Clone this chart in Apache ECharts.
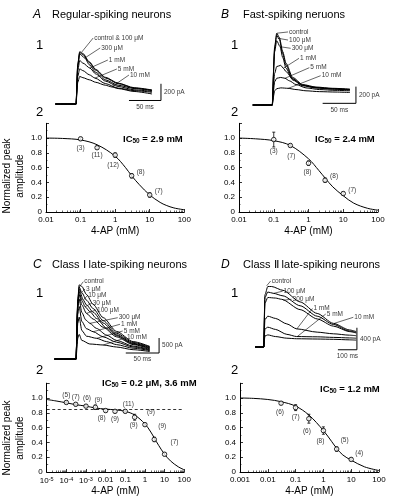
<!DOCTYPE html>
<html><head><meta charset="utf-8">
<script src="https://cdn.jsdelivr.net/npm/echarts@6/dist/echarts.min.js"></script>
<style>html,body{margin:0;padding:0;background:#fff}#c{width:405px;height:504px}</style>
</head><body><div id="c"></div>
<script>
// ================= DATA =================
// Dose-response (concentration in mM, normalized peak amplitude)
const concA = [0.1, 0.3, 1, 3, 10];
const meanA = [0.99, 0.87, 0.77, 0.49, 0.23];
const semA  = [0.02, 0.02, 0.03, 0.03, 0.03];
const nA    = ['(3)', '(11)', '(12)', '(8)', '(7)'];
const fitA  = [[0.01,1.0],[0.03,0.995],[0.1,0.975],[0.3,0.91],[1,0.755],[2,0.6],[3,0.49],[5,0.37],[10,0.23],[20,0.13],[30,0.09],[50,0.055],[100,0.03]];

const concB = [0.1, 0.3, 1, 3, 10];
const meanB = [0.98, 0.9, 0.66, 0.43, 0.25];
const semB  = [0.1, 0.02, 0.03, 0.03, 0.02];
const nB    = ['(3)', '(7)', '(8)', '(8)', '(7)'];
const fitB  = [[0.01,1.0],[0.03,0.99],[0.1,0.965],[0.3,0.9],[1,0.72],[2,0.56],[3,0.46],[5,0.34],[10,0.22],[20,0.12],[50,0.05],[100,0.025]];

const concC = [0.0001, 0.0003, 0.001, 0.003, 0.01, 0.03, 0.1, 0.3, 1, 3, 10];
const meanC = [0.94, 0.915, 0.89, 0.875, 0.83, 0.82, 0.82, 0.74, 0.64, 0.44, 0.24];
const semC  = [0.02, 0.02, 0.02, 0.03, 0.02, 0.02, 0.02, 0.04, 0.02, 0.03, 0.02];
const nC    = ['(5)', '(7)', '(6)', '(9)', '(8)', '(9)', '(11)', '(9)', '(9)', '(9)', '(7)'];
const fitC  = [[0.00001,0.98],[0.00003,0.96],[0.0001,0.935],[0.0003,0.91],[0.001,0.89],[0.003,0.865],[0.01,0.85],[0.03,0.84],[0.1,0.82],[0.3,0.77],[1,0.65],[2,0.54],[3,0.46],[5,0.36],[10,0.24],[20,0.15],[50,0.07],[100,0.03]];
const plateauC = 0.85;

const concD = [0.03, 0.1, 0.3, 1, 3, 10];
const meanD = [0.93, 0.87, 0.72, 0.56, 0.31, 0.17];
const semD  = [0.02, 0.04, 0.06, 0.05, 0.03, 0.02];
const nD    = ['(6)', '(7)', '(6)', '(8)', '(5)', '(4)'];
const fitD  = [[0.001,1.0],[0.003,0.995],[0.01,0.98],[0.03,0.95],[0.1,0.89],[0.3,0.77],[1,0.56],[2,0.41],[3,0.32],[5,0.23],[10,0.16],[30,0.07],[100,0.02]];

// Tick labels
const xTicksA = ['0.01', '0.1', '1', '10', '100'];
const xTicksB = ['0.01', '0.1', '1', '10', '100'];
const xTicksC = ['10{s|-5}', '10{s|-4}', '10{s|-3}', '0.01', '0.1', '1', '10', '100'];
const xTicksD = ['0.001', '0.01', '0.1', '1', '10', '100'];

// Current traces [time ms, current pA]
const A_ctrl = [[-33,0],[-0.5,0],[0,0],[2,480],[5,626],[10,605],[20,505],[30,415],[45,320],[65,250],[90,195],[118,168]];
const A_100  = [[-33,0],[-0.5,0],[0,0],[2,470],[5,615],[10,592],[20,495],[30,405],[45,312],[65,244],[90,190],[118,164]];
const A_300  = [[-33,0],[-0.5,0],[0,0],[2,450],[5,600],[13,550],[20,470],[30,380],[45,290],[65,225],[90,185],[118,160]];
const A_1mM  = [[-33,0],[-0.5,0],[0,0],[2,400],[5,520],[10,490],[21,430],[30,360],[45,275],[65,210],[90,170],[118,150]];
const A_5mM  = [[-33,0],[-0.5,0],[0,0],[2,330],[5,420],[10,400],[20,350],[29,310],[45,245],[65,190],[90,160],[118,140]];
const A_10mM = [[-33,0],[-0.5,0],[0,0],[2,260],[5,330],[10,315],[20,290],[30,260],[45,225],[55,205],[65,185],[90,150],[118,120]];

const B_ctrl = [[-30,0],[-0.5,0],[0,0],[3,700],[6,860],[10,810],[15,640],[20,500],[30,330],[45,245],[65,215],[90,200],[116,190]];
const B_100  = [[-30,0],[-0.5,0],[0,0],[3,680],[6,835],[10,785],[15,615],[20,475],[30,315],[45,238],[65,210],[90,196],[116,186]];
const B_300  = [[-30,0],[-0.5,0],[0,0],[3,640],[6,770],[11,700],[15,570],[20,440],[30,300],[45,230],[65,205],[90,192],[116,182]];
const B_1mM  = [[-30,0],[-0.5,0],[0,0],[3,380],[6,460],[12,475],[16,440],[20,400],[30,310],[45,235],[65,205],[90,190],[116,180]];
const B_5mM  = [[-30,0],[-0.5,0],[0,0],[3,280],[6,320],[12,330],[18.5,320],[25,290],[35,245],[50,205],[70,185],[95,175],[116,170]];
const B_10mM = [[-30,0],[-0.5,0],[0,0],[3,170],[6,195],[12,205],[23,200],[35,185],[50,170],[70,160],[95,155],[116,150]];

const C_ctrl = [[-33,0],[-0.5,0],[0,0],[2,2000],[4,2470],[8,2420],[15,2150],[25,1820],[40,1380],[60,920],[85,580],[110,420]];
const C_3uM  = [[-33,0],[-0.5,0],[0,0],[2,1950],[4,2400],[8,2210],[15,1960],[25,1680],[40,1280],[60,860],[85,550],[110,400]];
const C_10uM = [[-33,0],[-0.5,0],[0,0],[2,1900],[4,2330],[10,1970],[15,1800],[25,1560],[40,1200],[60,810],[85,520],[110,380]];
const C_30uM = [[-33,0],[-0.5,0],[0,0],[2,1850],[4,2250],[8,1950],[13,1740],[20,1580],[30,1350],[45,1030],[60,780],[85,500],[110,360]];
const C_100uM= [[-33,0],[-0.5,0],[0,0],[2,1800],[4,2150],[8,1800],[15,1520],[25,1330],[40,1060],[60,740],[85,480],[110,340]];
const C_300uM= [[-33,0],[-0.5,0],[0,0],[2,1700],[4,2000],[8,1550],[14,1300],[20,1190],[30,1020],[45,800],[60,620],[85,430],[110,320]];
const C_1mM  = [[-33,0],[-0.5,0],[0,0],[2,1500],[4,1750],[8,1250],[15,1010],[25,910],[40,740],[60,560],[85,400],[110,300]];
const C_5mM  = [[-33,0],[-0.5,0],[0,0],[2,1200],[4,1400],[8,950],[15,760],[30,690],[45,580],[60,480],[85,360],[110,280]];
const C_10mM = [[-33,0],[-0.5,0],[0,0],[2,700],[4,820],[8,620],[20,500],[40,467],[60,400],[85,310],[110,250]];

const D_ctrl = [[-47,0],[-1,0],[0,0],[5,950],[20,1100],[40,1100],[100,1030],[190,820],[280,610],[365,430],[450,310],[485,280]];
const D_100  = [[-47,0],[-1,0],[0,0],[5,900],[20,1000],[49,976],[100,930],[190,750],[280,560],[365,410],[450,290],[485,265]];
const D_300  = [[-47,0],[-1,0],[0,0],[5,800],[20,900],[60,890],[93,867],[190,680],[280,510],[365,380],[450,280],[485,255]];
const D_1mM  = [[-47,0],[-1,0],[0,0],[5,500],[20,560],[60,520],[120,420],[172,330],[280,270],[365,240],[450,215],[485,205]];
const D_5mM  = [[-47,0],[-1,0],[0,0],[5,330],[20,360],[60,320],[120,230],[172,190],[280,185],[365,175],[450,165],[485,160]];
const D_10mM = [[-47,0],[-1,0],[0,0],[5,200],[20,220],[60,190],[120,160],[172,150],[280,145],[365,140],[450,130],[485,125]];

// Trace labels: text, leader start (on trace), leader end (text anchor)
const leadA = [['control & 100 μM',[8,620],[26,790]],['300 μM',[13,551],[37,671]],['1 mM',[21,431],[49,527]],['5 mM',[29,311],[63,419]],['10 mM',[55,205],[82,347]]];
const leadB = [['control',[6.5,860],[23,875]],['100 μM',[7.5,800],[23,778]],['300 μM',[11,698],[27,679]],['1 mM',[16,440],[39.5,559]],['5 mM',[18.5,320],[55,447]],['10 mM',[23.4,200],[72,351]]];
const leadC = [['control',[4.2,2400],[10.2,2577]],['3 μM',[7.8,2220],[12.8,2333]],['10 μM',[10.2,1967],[16.2,2110]],['30 μM',[12.8,1743],[22.8,1857]],['100 μM',[15.3,1523],[29.3,1633]],['300 μM',[20.3,1190],[61.9,1377]],['1 mM',[25.2,910],[65.3,1157]],['5 mM',[30.3,690],[69.4,933]],['10 mM',[40.2,467],[74.3,710]]];
const leadD = [['control',[14,1113],[35,1200]],['100 μM',[50,975],[98,1015]],['300 μM',[100,850],[145,868]],['1 mM',[172,325],[255,700]],['5 mM',[175,190],[325,600]],['10 mM',[370,430],[470,540]]];

// Scale bars: corner (t,I), length in ms, length in pA
const scaleA = {t: 132, i: 42, dt: 50, di: 200, tText: '50 ms', iText: '200 pA'};
const scaleB = {t: 125, i: 20, dt: 50, di: 200, tText: '50 ms', iText: '200 pA'};
const scaleC = {t: 124, i: 200, dt: 50, di: 500, tText: '50 ms', iText: '500 pA'};
const scaleD = {t: 489, i: -50, dt: 100, di: 400, tText: '100 ms', iText: '400 pA'};

// ================= LAYOUT =================
const FONT = 'Liberation Sans, Arial, Helvetica, sans-serif';
const traceGeom = [
  {t0: 76.5, pxMs: 0.64, base: 104, pxPA: 0.0835, tMin: -38, tMax: 146, iMin: -120, iMax: 880},
  {t0: 272.7, pxMs: 0.666, base: 105, pxPA: 0.0835, tMin: -36, tMax: 150, iMin: -120, iMax: 960},
  {t0: 76.5, pxMs: 0.666, base: 359, pxPA: 0.03, tMin: -36, tMax: 150, iMin: -300, iMax: 2800},
  {t0: 264, pxMs: 0.19, base: 347, pxPA: 0.055, tMin: -80, tMax: 620, iMin: -250, iMax: 1300}
];
const doseGeom = [
  {left: 46, top: 123.3, width: 138.3, height: 88.7},
  {left: 239, top: 123.3, width: 139, height: 88.7},
  {left: 46.7, top: 383.2, width: 137.5, height: 88.8},
  {left: 240, top: 383.2, width: 139, height: 88.8}
];

const tracePanels = [
  {traces: [A_ctrl, A_100, A_300, A_1mM, A_5mM, A_10mM], leads: leadA, scale: scaleA},
  {traces: [B_ctrl, B_100, B_300, B_1mM, B_5mM, B_10mM], leads: leadB, scale: scaleB},
  {traces: [C_ctrl, C_3uM, C_10uM, C_30uM, C_100uM, C_300uM, C_1mM, C_5mM, C_10mM], leads: leadC, scale: scaleC},
  {traces: [D_ctrl, D_100, D_300, D_1mM, D_5mM, D_10mM], leads: leadD, scale: scaleD}
];
const dosePanels = [
  {conc: concA, mean: meanA, sem: semA, n: nA, fit: fitA, min: 0.01, max: 100, ticks: xTicksA,
   off: [[0,9],[0,8],[-2,10],[9,-4],[9,-4]]},
  {conc: concB, mean: meanB, sem: semB, n: nB, fit: fitB, min: 0.01, max: 100, ticks: xTicksB,
   off: [[0,12],[1,11],[-1,9],[9,-4],[9,-3]]},
  {conc: concC, mean: meanC, sem: semC, n: nC, fit: fitC, min: 0.00001, max: 100, ticks: xTicksC,
   off: [[0,-7],[0,-7.5],[1,-8],[3,-7],[-4,8],[0,8],[3,-7],[-1,8],[6,-12],[8,-13],[10,-12]], plateau: plateauC},
  {conc: concD, mean: meanD, sem: semD, n: nD, fit: fitD, min: 0.001, max: 100, ticks: xTicksD,
   off: [[-1,9],[0,10],[-2,12],[-3,11],[8,-9],[8,-6]]}
];

const grid = [], xAxis = [], yAxis = [], series = [];
const small = {fontSize: 6.5, color: '#000', fontFamily: FONT};

tracePanels.forEach((p, k) => {
  const g = traceGeom[k];
  grid.push({left: g.t0 + g.tMin * g.pxMs, width: (g.tMax - g.tMin) * g.pxMs,
             top: g.base - g.iMax * g.pxPA, height: (g.iMax - g.iMin) * g.pxPA});
  xAxis.push({type: 'value', gridIndex: k, min: g.tMin, max: g.tMax, show: false});
  yAxis.push({type: 'value', gridIndex: k, min: g.iMin, max: g.iMax, show: false});
  p.traces.forEach(tr => series.push({type: 'line', xAxisIndex: k, yAxisIndex: k, data: tr,
    symbol: 'none', smooth: 0.25, smoothMonotone: 'x', silent: true, animation: false,
    lineStyle: {color: '#000', width: 1}}));
  p.leads.forEach(ld => {
    series.push({type: 'line', xAxisIndex: k, yAxisIndex: k, data: [ld[1], ld[2]], symbol: 'none',
      silent: true, animation: false, lineStyle: {color: '#000', width: 0.6}});
    series.push({type: 'scatter', xAxisIndex: k, yAxisIndex: k, symbolSize: 0, silent: true, animation: false,
      data: [{value: ld[2], label: Object.assign({show: true, formatter: ld[0], position: 'right', distance: 1}, small)}]});
  });
  const s = p.scale;
  series.push({type: 'line', xAxisIndex: k, yAxisIndex: k, symbol: 'none', silent: true, animation: false,
    data: [[s.t - s.dt, s.i], [s.t, s.i], [s.t, s.i + s.di]], lineStyle: {color: '#000', width: 1}});
  series.push({type: 'scatter', xAxisIndex: k, yAxisIndex: k, symbolSize: 0, silent: true, animation: false,
    data: [
      {value: [s.t, s.i + s.di / 2], label: Object.assign({show: true, formatter: s.iText, position: 'right', distance: 3}, small)},
      {value: [s.t - s.dt / 2, s.i], label: Object.assign({show: true, formatter: s.tText, position: 'bottom', distance: 3}, small)}
    ]});
});

dosePanels.forEach((p, j) => {
  const k = j + 4;
  grid.push(doseGeom[j]);
  const e0 = Math.round(Math.log10(p.min));
  xAxis.push({type: 'log', logBase: 10, gridIndex: k, min: p.min, max: p.max,
    axisLine: {lineStyle: {color: '#000', width: 1}},
    axisTick: {inside: true, length: 3, lineStyle: {color: '#000', width: 0.8}},
    minorTick: {show: true, splitNumber: 9, length: 1.5, lineStyle: {color: '#000', width: 0.6}},
    splitLine: {show: false},
    axisLabel: {color: '#000', fontSize: 8, fontFamily: FONT, margin: 4,
      formatter: v => p.ticks[Math.round(Math.log10(v)) - e0] || '',
      rich: {s: {fontSize: 5.5, fontFamily: FONT, color: '#000', verticalAlign: 'top', padding: [0, 0, 4, 0]}}},
    name: '4-AP (mM)', nameLocation: 'middle', nameGap: 14,
    nameTextStyle: {color: '#000', fontSize: 10, fontFamily: FONT}});
  yAxis.push({type: 'value', gridIndex: k, min: 0, max: 1.2, interval: 0.2,
    axisLine: {show: true, lineStyle: {color: '#000', width: 1}},
    axisTick: {show: true, inside: true, length: 3, lineStyle: {color: '#000', width: 0.8}},
    minorTick: {show: true, splitNumber: 2, length: 1.5, lineStyle: {color: '#000', width: 0.6}},
    splitLine: {show: false},
    axisLabel: {color: '#000', fontSize: 8, fontFamily: FONT, margin: 4,
      formatter: v => v === 0 ? '0' : (v > 1.1 ? '' : v.toFixed(1))}});
  const curve = {type: 'line', xAxisIndex: k, yAxisIndex: k, data: p.fit, symbol: 'none', smooth: 0.35,
    silent: true, animation: false, lineStyle: {color: '#000', width: 1}};
  if (p.plateau !== undefined) {
    curve.markLine = {silent: true, symbol: 'none', animation: false, label: {show: false},
      lineStyle: {color: '#000', width: 0.8, type: [3, 2.5]}, data: [{yAxis: p.plateau}]};
  }
  series.push(curve);
  series.push({type: 'custom', xAxisIndex: k, yAxisIndex: k, silent: true, animation: false,
    encode: {x: 0, y: [1, 2]},
    data: p.conc.map((c, i) => [c, p.mean[i] - p.sem[i], p.mean[i] + p.sem[i]]),
    renderItem: (params, api) => {
      const a = api.coord([api.value(0), api.value(1)]);
      const b = api.coord([api.value(0), api.value(2)]);
      const st = {stroke: '#000', lineWidth: 0.8};
      return {type: 'group', children: [
        {type: 'line', shape: {x1: a[0], y1: a[1], x2: b[0], y2: b[1]}, style: st},
        {type: 'line', shape: {x1: a[0] - 1.5, y1: a[1], x2: a[0] + 1.5, y2: a[1]}, style: st},
        {type: 'line', shape: {x1: b[0] - 1.5, y1: b[1], x2: b[0] + 1.5, y2: b[1]}, style: st}
      ]};
    }});
  series.push({type: 'scatter', xAxisIndex: k, yAxisIndex: k, symbol: 'circle', symbolSize: 4.5,
    silent: true, animation: false, z: 5,
    itemStyle: {color: '#fff', borderColor: '#000', borderWidth: 1},
    data: p.conc.map((c, i) => ({value: [c, p.mean[i]],
      label: Object.assign({show: true, formatter: p.n[i], position: 'inside', offset: p.off[i]}, small)}))});
});

// ================= TEXT =================
const txt = (x, y, text, font, extra) => Object.assign({type: 'text', x, y, silent: true,
  style: {text, fill: '#000', font, align: 'left', verticalAlign: 'middle'}}, extra || {});
const ic = (x, y, val) => ({type: 'text', x, y, silent: true, style: {
  text: '{b|IC}{s|50}{b| = ' + val + '}', fill: '#000', verticalAlign: 'middle',
  rich: {b: {fontSize: 9.5, fontWeight: 'bold', fontFamily: FONT, lineHeight: 12, verticalAlign: 'bottom'},
         s: {fontSize: 6.5, fontWeight: 'bold', fontFamily: FONT, lineHeight: 12, verticalAlign: 'bottom', padding: [0, 0, -1, 0]}}}});
const yTitle = (x, y) => ({type: 'text', x, y, rotation: Math.PI / 2, silent: true,
  style: {text: 'Normalized peak\namplitude', fill: '#000', font: '10px ' + FONT, align: 'center', verticalAlign: 'middle', lineHeight: 13}});

const graphic = [
  txt(33, 15, 'A', 'italic 12px ' + FONT), txt(52, 15, 'Regular-spiking neurons', '11px ' + FONT),
  txt(221, 15, 'B', 'italic 12px ' + FONT), txt(243, 15, 'Fast-spiking neruons', '11px ' + FONT),
  txt(33, 265, 'C', 'italic 12px ' + FONT), txt(52, 265, 'Class Ⅰ late-spiking neurons', '11px ' + FONT),
  txt(221, 265, 'D', 'italic 12px ' + FONT), txt(243, 265, 'Class Ⅱ late-spiking neurons', '11px ' + FONT),
  txt(36, 45, '1', '13px ' + FONT), txt(36, 112, '2', '13px ' + FONT),
  txt(231, 45, '1', '13px ' + FONT), txt(231, 112, '2', '13px ' + FONT),
  txt(36, 293, '1', '13px ' + FONT), txt(36, 370, '2', '13px ' + FONT),
  txt(231, 293, '1', '13px ' + FONT), txt(231, 370, '2', '13px ' + FONT),
  ic(123, 138, '2.9 mM'), ic(315, 138, '2.4 mM'), ic(102, 382, '0.2 μM, 3.6 mM'), ic(320, 388, '1.2 mM'),
  yTitle(14, 176), yTitle(14, 438)
];

const chart = echarts.init(document.getElementById('c'), null, {renderer: 'canvas'});
chart.setOption({
  animation: false,
  backgroundColor: '#fff',
  textStyle: {fontFamily: FONT},
  grid, xAxis, yAxis, series, graphic
});
</script>
</body></html>
